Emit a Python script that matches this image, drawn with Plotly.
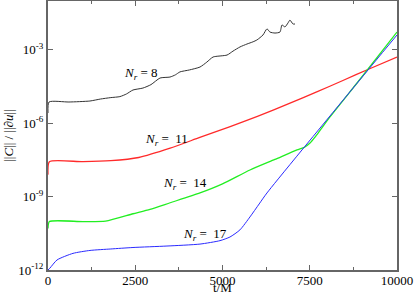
import plotly.graph_objects as go

# Data (t/M and log10 of ||C||/||du||)
black_t = [0, 30, 600, 1200, 1500, 1800, 2060, 2250, 2435, 2720, 2950, 3210, 3495, 3650, 3780,
           4050, 4355, 4550, 4730, 5130, 5300, 5500, 5700, 5873, 5990, 6160, 6274, 6360, 6504,
           6647, 6704, 6790, 6876, 6933, 7019, 7077]
black_log10 = [-5.58, -5.13, -5.13, -5.09, -5.01, -4.95, -4.91, -4.80, -4.64, -4.56, -4.42, -4.15,
               -4.11, -4.02, -3.90, -3.82, -3.70, -3.50, -3.29, -3.21, -3.05, -2.88, -2.76, -2.67,
               -2.59, -2.39, -2.14, -2.27, -2.31, -2.27, -1.98, -2.06, -1.90, -1.78, -1.94, -1.94]

red_t = [0, 40, 1000, 1800, 2600, 3500, 4350, 5200, 6000, 6900, 7700, 8450, 9200, 10000]
red_log10 = [-8.1, -7.57, -7.57, -7.53, -7.40, -7.02, -6.58, -6.15, -5.72, -5.20, -4.72, -4.25,
             -3.78, -3.29]

green_t = [0, 40, 1000, 1650, 2435, 2922, 3500, 4355, 5000, 5787, 6500, 7134, 7350, 7500, 7650,
           7800, 8080, 8940, 10000]
green_log10 = [-10.3, -10.02, -10.02, -10.0, -9.70, -9.52, -9.25, -8.85, -8.48, -7.91, -7.48,
               -7.09, -6.98, -6.82, -6.57, -6.28, -5.74, -4.20, -2.27]

blue_t = [0, 57, 258, 716, 1203, 1800, 2435, 3409, 4355, 4928, 5214, 5500, 5787, 6050, 6274, 10000]
blue_log10 = [-12.0, -11.92, -11.59, -11.32, -11.20, -11.14, -11.08, -11.02, -10.94, -10.80,
              -10.65, -10.36, -9.83, -9.30, -8.85, -2.39]

series = [
    ("8", black_t, black_log10, "#333333", 1.0),
    ("11", red_t, red_log10, "#ff2a2a", 1.3),
    ("14", green_t, green_log10, "#22ee22", 1.3),
    ("17", blue_t, blue_log10, "#2a2aff", 1.0),
]

labels = ["N<sub>r</sub> = 8", "N<sub>r</sub> =  11", "N<sub>r</sub> =  14", "N<sub>r</sub> =  17"]
label_t = [2664, 3381, 3925, 4498]
label_log10 = [-3.98, -6.68, -8.48, -10.53]

ytick_exp = [-12, -9, -6, -3]
xtick_vals = [0, 2500, 5000, 7500, 10000]

FONT = "'Liberation Serif', 'Times New Roman', serif"
AX = "#666666"

fig = go.Figure()
for name, t, lg, col, w in series:
    fig.add_trace(go.Scatter(x=t, y=[10 ** v for v in lg], mode="lines",
                             line=dict(color=col, width=w, shape="spline", smoothing=0.6),
                             name=name, showlegend=False, hoverinfo="skip"))

for txt, t, lg in zip(labels, label_t, label_log10):
    fig.add_annotation(x=t, y=lg, text="<i>" + txt.replace("<sub>r</sub>", "</i><sub><i>r</i></sub>"),
                       showarrow=False, font=dict(family=FONT, size=13, color="black"))

# x-axis title placed just below the tick labels
fig.add_annotation(text="t/M", xref="paper", yref="paper", x=0.5, y=0, yanchor="bottom",
                   yshift=-27, showarrow=False, font=dict(family=FONT, size=13, color="black"))

fig.update_layout(
    width=415, height=296,
    margin=dict(l=48, r=18, t=1, b=26),
    paper_bgcolor="white", plot_bgcolor="white",
    font=dict(family=FONT, size=13, color="black"),
)
fig.update_xaxes(
    range=[0, 10000], tickvals=xtick_vals, ticktext=[str(v) for v in xtick_vals],
    ticks="inside", ticklen=5, tickwidth=1, tickcolor=AX,
    minor=dict(tickvals=[1250, 3750, 6250, 8750], ticks="inside", ticklen=3, tickcolor=AX),
    showline=True, linecolor=AX, linewidth=2, mirror="ticks", showgrid=False, zeroline=False,
    tickfont=dict(family=FONT, size=13), automargin=False, ticklabelstandoff=-3,
)
fig.update_yaxes(
    type="log", range=[-12, -1],
    tickvals=[10 ** e for e in ytick_exp],
    ticktext=["10<sup>%d</sup>" % e for e in ytick_exp],
    ticks="inside", ticklen=5, tickwidth=1, tickcolor=AX,
    showline=True, linecolor=AX, linewidth=2, mirror="ticks", showgrid=False, zeroline=False,
    title=dict(text="||<i>C</i>|| / ||∂<i>u</i>||", standoff=2, font=dict(family=FONT, size=13)),
    tickfont=dict(family=FONT, size=13), automargin=False,
)

fig.write_html("out.html", config={"displayModeBar": False},
               post_script="document.body.style.margin='0px';")
